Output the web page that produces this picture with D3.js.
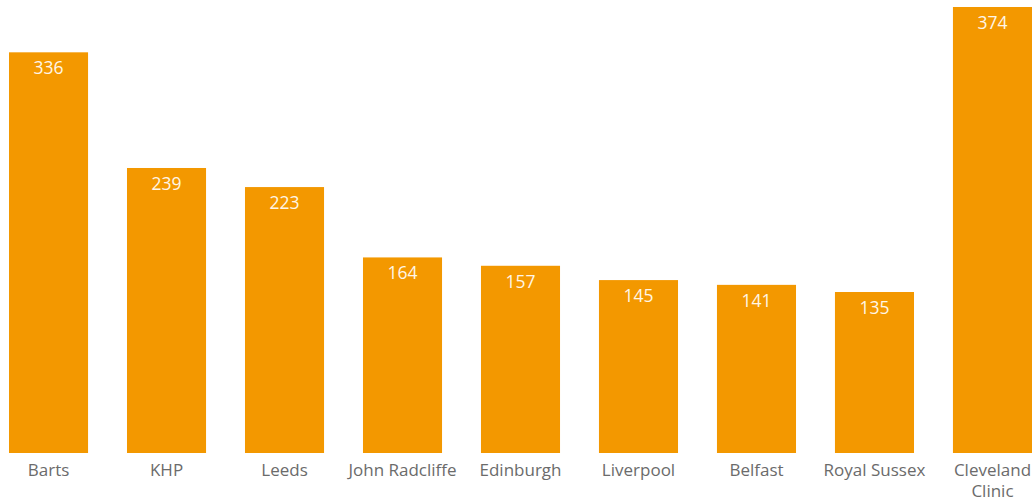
<!DOCTYPE html>
<html><head><meta charset="utf-8">
<script src="https://cdn.jsdelivr.net/npm/d3@7"></script>
<style>body{margin:0;background:#fff;}svg{display:block;}</style>
</head><body>
<svg id="chart" width="1035" height="501"></svg>
<script>
const categories = ["Barts","KHP","Leeds","John Radcliffe","Edinburgh","Liverpool","Belfast","Royal Sussex","Cleveland Clinic"];
const values = [336,239,223,164,157,145,141,135,374];

const svg = d3.select("#chart");
const x = d3.scaleBand().domain(categories).range([9,1032]).paddingInner(0.33).paddingOuter(0);
const y = d3.scaleLinear().domain([0,374]).range([453,7]);
const font = "'Open Sans', 'Noto Sans', sans-serif";

svg.selectAll("rect.bar").data(categories).join("rect")
  .attr("class","bar")
  .attr("x", d=>x(d)).attr("width", x.bandwidth())
  .attr("y", (d,i)=>y(values[i])).attr("height",(d,i)=>y(0)-y(values[i]))
  .attr("fill","#f39800");

svg.selectAll("text.val").data(categories).join("text")
  .attr("class","val")
  .attr("x", d=>x(d)+x.bandwidth()/2)
  .attr("y", (d,i)=>y(values[i])+22)
  .attr("text-anchor","middle")
  .attr("font-family",font).attr("font-size",17.5)
  .attr("fill","#fff6e6")
  .text((d,i)=>values[i]);

const xAxis = d3.axisBottom(x).tickSize(0).tickPadding(0);
const g = svg.append("g").attr("transform","translate(0,453)").call(xAxis);
g.select(".domain").remove();
g.selectAll("text").remove();
g.selectAll(".tick").each(function(d){
  const t = d3.select(this).append("text")
    .attr("text-anchor","middle")
    .attr("font-family",font).attr("font-size",17)
    .attr("fill","#6b6b6b");
  const lines = d==="Cleveland Clinic" ? ["Cleveland","Clinic"] : [d];
  lines.forEach((l,i)=>t.append("tspan").attr("x",0).attr("y",23+i*21).text(l));
});
</script>
</body></html>
